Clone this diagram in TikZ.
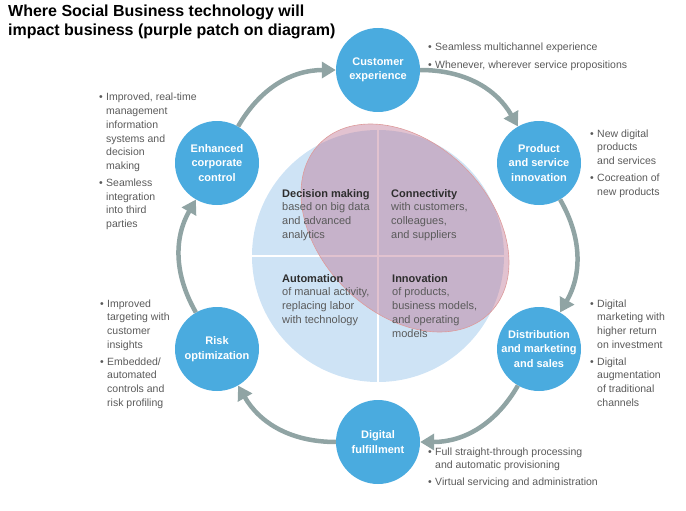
\documentclass[tikz,border=0pt]{standalone}
\usepackage{fontspec}
\setmainfont{Liberation Sans}
\usetikzlibrary{arrows.meta, shapes.geometric}
\definecolor{stageblue}{HTML}{4AABDF}
\definecolor{ringgray}{HTML}{90A4A4}
\definecolor{corelight}{HTML}{CEE3F5}
\definecolor{patchpink}{HTML}{BE7896}
\definecolor{patchline}{HTML}{DE9A9A}
\definecolor{bodygray}{HTML}{5A5A5A}
\definecolor{headgray}{HTML}{2E2E2E}

\begin{document}
\begin{tikzpicture}[
    x=1pt, y=-1pt,
    stage/.style={circle, fill=stageblue, minimum size=84pt, inner sep=0pt, align=center, text=white, font=\bfseries\fontsize{11}{14.5}\selectfont},
    arrow/.style={-{Triangle[length=14pt, width=16pt]}, line width=4.5pt, color=ringgray},
    bullets/.style={anchor=base west, inner sep=0pt, text=bodygray, font=\fontsize{10.5}{13.7}\selectfont},
    quad/.style={anchor=base west, inner sep=0pt, text=bodygray, font=\fontsize{11}{13.8}\selectfont}
]
\useasboundingbox (0,0) rectangle (686,511);

% Title
\node[anchor=base west, inner sep=0pt, font=\bfseries\fontsize{16}{19}\selectfont] (title) at (8,17) {\begin{tabular}[t]{@{}l@{}}Where Social Business technology will\\impact business (purple patch on diagram)\end{tabular}};

% Core circle with quadrants and the purple patch
\fill[corelight] (378,256) circle (126);
\draw[white, line width=1.5pt] (252,256) -- (504,256);
\draw[white, line width=1.5pt] (378,130) -- (378,382);
\filldraw[shift={(405,228)}, rotate=-45, fill=patchpink, fill opacity=0.45, draw=patchline, line width=0.6pt] (0,0) ellipse [x radius=120, y radius=85];

\node[quad] (decision) at (282,197) {\begin{tabular}[t]{@{}l@{}}\textcolor{headgray}{\bfseries Decision making}\\based on big data\\and advanced\\analytics\end{tabular}};
\node[quad] (connect) at (391,197) {\begin{tabular}[t]{@{}l@{}}\textcolor{headgray}{\bfseries Connectivity}\\with customers,\\colleagues,\\and suppliers\end{tabular}};
\node[quad] (automate) at (282,282) {\begin{tabular}[t]{@{}l@{}}\textcolor{headgray}{\bfseries Automation}\\of manual activity,\\replacing labor\\with technology\end{tabular}};
\node[quad] (innovate) at (392,282) {\begin{tabular}[t]{@{}l@{}}\textcolor{headgray}{\bfseries Innovation}\\of products,\\business models,\\and operating\\models\end{tabular}};

% Stages
\node[stage] (cust) at (378,70) {Customer\\experience};
\node[stage] (prod) at (539,163) {Product\\and service\\innovation};
\node[stage] (dist) at (539,349) {Distribution\\and marketing\\and sales};
\node[stage] (fulfil) at (378,442) {Digital\\fulfillment};
\node[stage] (risk) at (217,349) {Risk\\optimization};
\node[stage] (control) at (217,163) {Enhanced\\corporate\\control};

% Ring arrows
\draw[arrow] (cust) to[bend left=30] (prod);
\draw[arrow] (prod) to[bend left=30] (dist);
\draw[arrow] (dist) to[bend left=30] (fulfil);
\draw[arrow] (fulfil) to[bend left=30] (risk);
\draw[arrow] (risk) to[bend left=30] (control);
\draw[arrow] (control) to[bend left=30] (cust);

% Notes
\node[bullets] (custnote) at (428,51) {\begin{tabular}[t]{@{}p{7pt}@{}l@{}}
\textbullet & Seamless multichannel experience\\[4.3pt]
\textbullet & Whenever, wherever service propositions
\end{tabular}};
\node[bullets] (prodnote) at (590,137) {\begin{tabular}[t]{@{}p{7pt}@{}l@{}}
\textbullet & New digital\\ & products\\ & and services\\[3.3pt]
\textbullet & Cocreation of\\ & new products
\end{tabular}};
\node[bullets] (distnote) at (590,307) {\begin{tabular}[t]{@{}p{7pt}@{}l@{}}
\textbullet & Digital\\ & marketing with\\ & higher return\\ & on investment\\[3.3pt]
\textbullet & Digital\\ & augmentation\\ & of traditional\\ & channels
\end{tabular}};
\node[bullets] (fulfilnote) at (428,455) {\begin{tabular}[t]{@{}p{7pt}@{}l@{}}
\textbullet & Full straight-through processing\\ & and automatic provisioning\\[3.3pt]
\textbullet & Virtual servicing and administration
\end{tabular}};
\node[bullets] (risknote) at (100,307) {\begin{tabular}[t]{@{}p{7pt}@{}l@{}}
\textbullet & Improved\\ & targeting with\\ & customer\\ & insights\\[3.3pt]
\textbullet & Embedded/\\ & automated\\ & controls and\\ & risk profiling
\end{tabular}};
\node[bullets] (controlnote) at (99,101) {\begin{tabular}[t]{@{}p{7pt}@{}l@{}}
\textbullet & Improved, real-time\\ & management\\ & information\\ & systems and\\ & decision\\ & making\\[3.3pt]
\textbullet & Seamless\\ & integration\\ & into third\\ & parties
\end{tabular}};

\end{tikzpicture}
\end{document}
